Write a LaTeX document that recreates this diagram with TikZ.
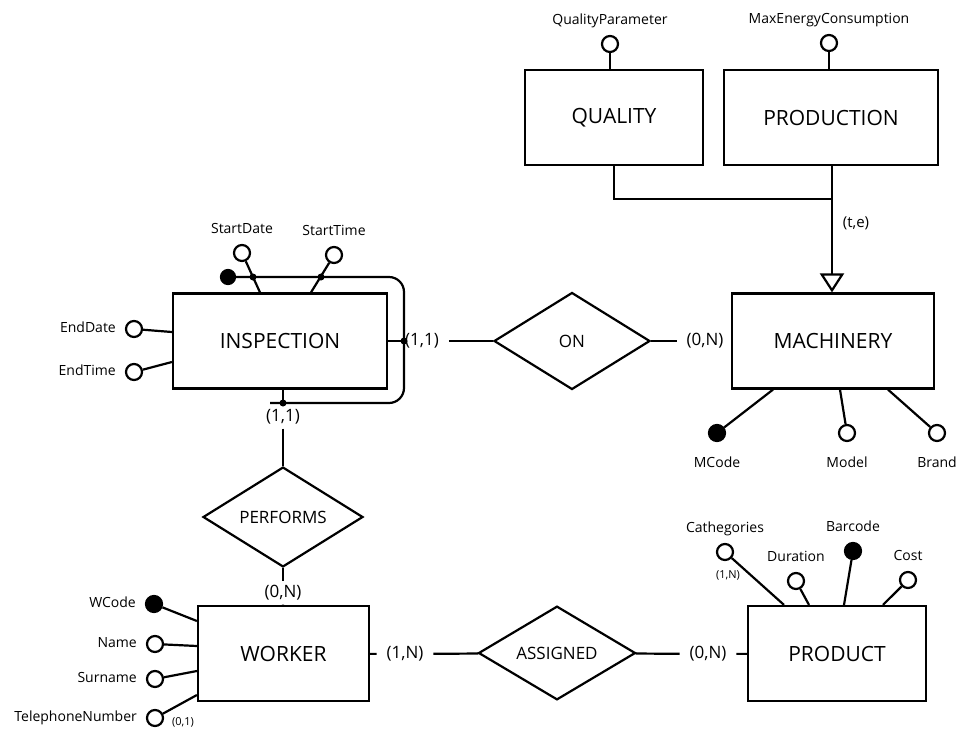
\documentclass[tikz,border=0pt]{standalone}
\usepackage{fontspec}
\setmainfont{Open Sans}
\usepackage{tikz}
\usetikzlibrary{shapes,arrows.meta,positioning,calc}
\tikzset{
entity/.style = {draw, rectangle, minimum height=47.5pt, font=\fontsize{10.5}{12}\selectfont},
rel/.style = {draw, diamond, inner sep=0pt, font=\fontsize{8.5}{10}\selectfont},
attr/.style = {draw, circle, fill=white, inner sep=0pt, minimum size=8pt},
key/.style = {attr, fill=black},
dot/.style = {circle, fill=black, inner sep=0pt, minimum size=3.5pt},
txt/.style = {inner sep=0pt, text height=5.3pt, text depth=1.6pt, font=\fontsize{7}{8}\selectfont},
card/.style = {inner xsep=4.5pt, inner ysep=1.5pt, font=\fontsize{8.5}{10}\selectfont},
small/.style = {inner sep=0pt, font=\fontsize{5.5}{6}\selectfont}
}
\begin{document}
\begin{tikzpicture}[auto, node distance=3pt, x=0.5pt, y=-0.5pt, line width=1.1pt]

                \useasboundingbox (0,0) rectangle (960,729);

                \node [entity, minimum width=89pt] (quality) at (614,117.5) {QUALITY};
                \node [entity, minimum width=107pt] (production) at (831,117.5) {PRODUCTION};
                \node [entity, minimum width=101pt] (machinery) at (833,341) {MACHINERY};
                \node [entity, minimum width=107pt] (inspection) at (280,341) {INSPECTION};
                \node [entity, minimum width=85.5pt] (worker) at (283.5,653.5) {WORKER};
                \node [entity, minimum width=89pt] (product) at (837,653.5) {PRODUCT};

                \node [rel, minimum width=78pt, minimum height=48.5pt] (on) at (572,341) {ON};
                \node [rel, minimum width=80pt, minimum height=46pt] (performs) at (283,517) {PERFORMS};
                \node [rel, minimum width=78.5pt, minimum height=46.5pt] (assigned) at (557,653) {ASSIGNED};

                % generalization
                \coordinate (gen) at (832,199);
                \draw (quality.south) |- (gen);
                \draw [-{Triangle[open,length=9.5pt,width=12pt]}] (gen |- production.south) -- (gen |- machinery.north);
                \node [small, font=\fontsize{7.5}{8}\selectfont] (te) at (856,223) {(t,e)};

                % attributes
                \node [attr] (qpar) at (610,44) {};
                \node [txt, above=of qpar] {QualityParameter};
                \draw (qpar) -- (qpar |- quality.north);
                \node [attr] (maxen) at (829,43) {};
                \node [txt, above=of maxen] {MaxEnergyConsumption};
                \draw (maxen) -- (maxen |- production.north);

                \node [key] (mcode) at (717,433) {};
                \node [txt, below=7pt of mcode] {MCode};
                \node [attr] (model) at (847,433) {};
                \node [txt, below=7pt of model] {Model};
                \node [attr] (brand) at (937,433) {};
                \node [txt, below=7pt of brand] {Brand};
                \draw (mcode) -- ($(machinery.south)+(-60,0)$);
                \draw (model) -- ($(machinery.south)+(7,0)$);
                \draw (brand) -- ($(machinery.south)+(55,0)$);

                \node [key, minimum size=7pt] (ikey) at (228,277) {};
                \node [attr] (sdate) at (242,253) {};
                \node [txt, above=of sdate] {StartDate};
                \node [attr] (stime) at (334,255) {};
                \node [txt, above=of stime] {StartTime};
                \draw (sdate) -- ($(inspection.north)+(-20,0)$);
                \draw (stime) -- ($(inspection.north)+(31,0)$);
                \node [attr] (edate) at (134,329) {};
                \node [txt, left=4pt of edate] {EndDate};
                \node [attr] (etime) at (134,372) {};
                \node [txt, left=4pt of etime] {EndTime};
                \draw (edate) -- ($(inspection.west)+(0,-9)$);
                \draw (etime) -- ($(inspection.west)+(0,21)$);

                % external identifier
                \node [dot] (d1) at (253,277) {};
                \node [dot] (d2) at (321,277) {};
                \node [dot] (d3) at (404,341) {};
                \node [dot] (d4) at (283,403) {};
                \coordinate (lp1) at (404,277);
                \coordinate (lp2) at (404,403);
                \draw [rounded corners=7.5pt] (ikey) -- (lp1) -- (lp2) -- ($(d4)+(-13,0)$);
                \draw (inspection.east) -- (d3.center);
                \draw (d4 |- inspection.south) -- (d4.center);

                \node [key] (wcode) at (154,604) {};
                \node [txt, left=4pt of wcode] {WCode};
                \node [attr] (wname) at (155,644) {};
                \node [txt, left=4pt of wname] {Name};
                \node [attr] (wsurname) at (155,679) {};
                \node [txt, left=4pt of wsurname] {Surname};
                \node [attr] (wphone) at (155,718) {};
                \node [txt, left=4pt of wphone] {TelephoneNumber};
                \node [small] at (183,722) {(0,1)};
                \draw (wcode) -- ($(worker.west)+(0,-32.5)$);
                \draw (wname) -- ($(worker.west)+(0,-7.5)$);
                \draw (wsurname) -- ($(worker.west)+(0,17.5)$);
                \draw (wphone) -- ($(worker.west)+(0,41.5)$);

                \node [attr] (pcat) at (725,552) {};
                \node [txt, above=of pcat] {Cathegories};
                \node [small] at (728,575) {(1,N)};
                \node [attr] (pdur) at (796,581) {};
                \node [txt, above=of pdur] {Duration};
                \node [key] (pbar) at (853,551) {};
                \node [txt, above=of pbar] {Barcode};
                \node [attr] (pcost) at (908,580) {};
                \node [txt, above=of pcost] {Cost};
                \draw (pcat) -- ($(product.north)+(-53,0)$);
                \draw (pdur) -- ($(product.north)+(-28,0)$);
                \draw (pbar) -- ($(product.north)+(7,0)$);
                \draw (pcost) -- ($(product.north)+(46,0)$);

                % relationships
                \node [card] (c11r) at (422,341) {(1,1)};
                \node [card] (c0nm) at (705,341) {(0,N)};
                \draw (c11r) -- (on);
                \draw (on) -- (c0nm);
                \node [card] (c11b) at (283,417) {(1,1)};
                \node [card] (c0nw) at (283,593) {(0,N)};
                \draw (c11b) -- (performs);
                \draw (performs) -- (c0nw);
                \draw (c0nw) -- (worker);
                \node [card] (c1nw) at (405,654) {(1,N)};
                \node [card] (c0np) at (708,654) {(0,N)};
                \draw (worker) -- (c1nw);
                \draw (c1nw) -- (assigned);
                \draw (assigned) -- (c0np);
                \draw (c0np) -- (product);
            \end{tikzpicture}
\end{document}
